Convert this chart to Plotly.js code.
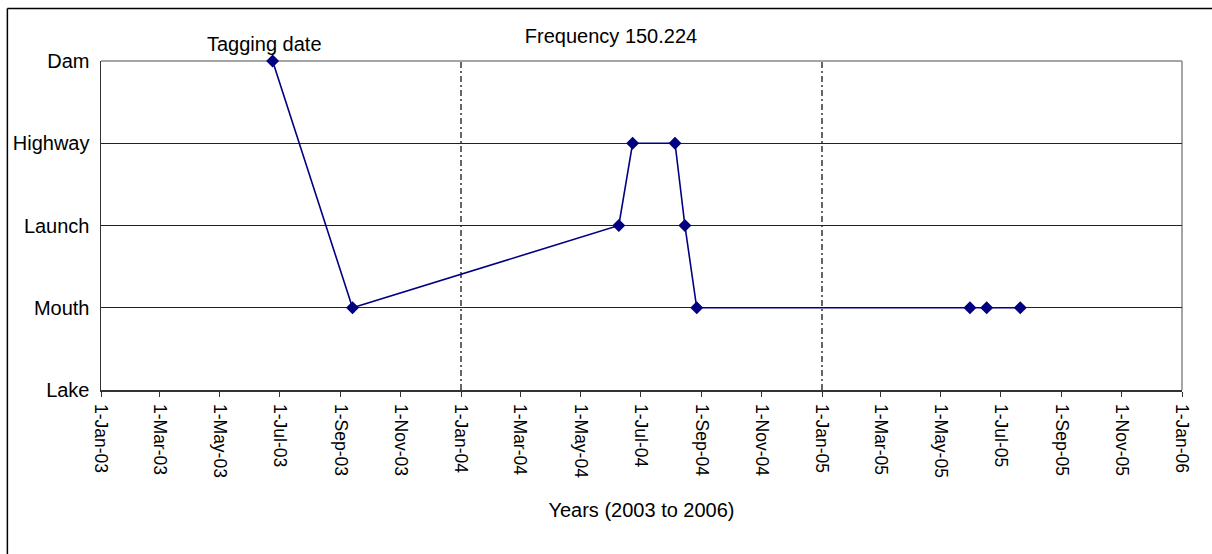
<!DOCTYPE html>
<html>
<head>
<meta charset="utf-8">
<script src="https://cdn.plot.ly/plotly-3.0.1.min.js"></script>
<style>
  html, body { margin: 0; padding: 0; background: #fff; }
  #chart { width: 1212px; height: 554px; }
</style>
</head>
<body>
<div id="chart"></div>
<script>
// ---- data ----
const categories = ['Lake', 'Mouth', 'Launch', 'Highway', 'Dam'];
const detectionDates = ['2003-06-24', '2003-09-13', '2004-06-09', '2004-06-23', '2004-08-05',
                        '2004-08-15', '2004-08-27', '2005-05-31', '2005-06-17', '2005-07-21'];
const detectionLocations = ['Dam', 'Mouth', 'Launch', 'Highway', 'Highway',
                            'Launch', 'Mouth', 'Mouth', 'Mouth', 'Mouth'];
const yearBoundaries = ['2004-01-01', '2005-01-01'];
const xRange = ['2003-01-01', '2006-01-01'];
const chartTitle = 'Frequency 150.224';
const xTitle = 'Years (2003 to 2006)';
const tagLabel = 'Tagging date';

const FONT = 'Liberation Sans, Arial, sans-serif';
const yVals = detectionLocations.map(l => categories.indexOf(l));
const catIdx = categories.map((c, i) => i);

const trace = {
  x: detectionDates,
  y: yVals,
  type: 'scatter',
  mode: 'lines+markers',
  line: { color: '#000080', width: 1.6 },
  marker: { symbol: 'diamond', size: 10, color: '#000080' },
  cliponaxis: false,
  hoverinfo: 'x+y'
};

const shapes = [];
yearBoundaries.forEach(d => shapes.push({
  type: 'line', xref: 'x', yref: 'paper', x0: d, x1: d, y0: 0, y1: 1,
  line: { color: '#000', width: 1.2, dash: '6px,3px,2px,3px' }, layer: 'below'
}));
// plot-area top and right border (grey)
shapes.push({ type: 'line', xref: 'paper', yref: 'paper', x0: 0, x1: 1, y0: 1, y1: 1,
  line: { color: '#888', width: 1.5 }, layer: 'below' });
shapes.push({ type: 'line', xref: 'paper', yref: 'paper', x0: 1, x1: 1, y0: 0, y1: 1,
  line: { color: '#888', width: 1.5 }, layer: 'below' });
// outer chart frame (left and top visible)
shapes.push({ type: 'line', xref: 'paper', yref: 'paper', x0: -0.0866, x1: -0.0866, y0: -0.55, y1: 1.1596,
  line: { color: '#000', width: 1.5 } });
shapes.push({ type: 'line', xref: 'paper', yref: 'paper', x0: -0.0866, x1: 1.06, y0: 1.1596, y1: 1.1596,
  line: { color: '#000', width: 1.5 } });

const layout = {
  width: 1212, height: 554,
  margin: { l: 101, r: 30, t: 61, b: 164, pad: 0 },
  paper_bgcolor: '#fff', plot_bgcolor: '#fff',
  showlegend: false,
  font: { family: FONT, color: '#000' },
  title: {
    text: chartTitle,
    font: { family: FONT, size: 20, color: '#000' },
    xref: 'paper', x: (611 - 101) / 1081, xanchor: 'center',
    yref: 'container', y: 1 - 36 / 554, yanchor: 'middle'
  },
  xaxis: {
    type: 'date',
    range: xRange,
    tick0: '2003-01-01',
    dtick: 'M2',
    tickformat: '%-d-%b-%y',
    tickangle: 90,
    ticks: 'outside', ticklen: 5, tickcolor: '#333', tickwidth: 1,
    showline: true, linecolor: '#333', linewidth: 1.5,
    showgrid: false, zeroline: false,
    tickfont: { family: FONT, size: 17.5, color: '#000' },
    ticklabelstandoff: 4,
    title: { text: xTitle, font: { family: FONT, size: 20, color: '#000' }, standoff: 26 },
    automargin: false
  },
  yaxis: {
    range: [0, 4],
    tickmode: 'array',
    tickvals: catIdx,
    ticktext: categories,
    ticks: '',
    showline: true, linecolor: '#333', linewidth: 1.5,
    showgrid: true, gridcolor: '#222', gridwidth: 1,
    zeroline: false,
    tickfont: { family: FONT, size: 20, color: '#000' },
    ticklabelstandoff: 6,
    automargin: false
  },
  shapes: shapes,
  annotations: [{
    text: tagLabel, xref: 'paper', yref: 'paper',
    x: (264.5 - 101) / 1081, y: (390 - 44) / 329,
    xanchor: 'center', yanchor: 'middle', showarrow: false,
    font: { family: FONT, size: 20, color: '#000' }
  }]
};

Plotly.newPlot('chart', [trace], layout, { displayModeBar: false, staticPlot: true });
</script>
</body>
</html>
